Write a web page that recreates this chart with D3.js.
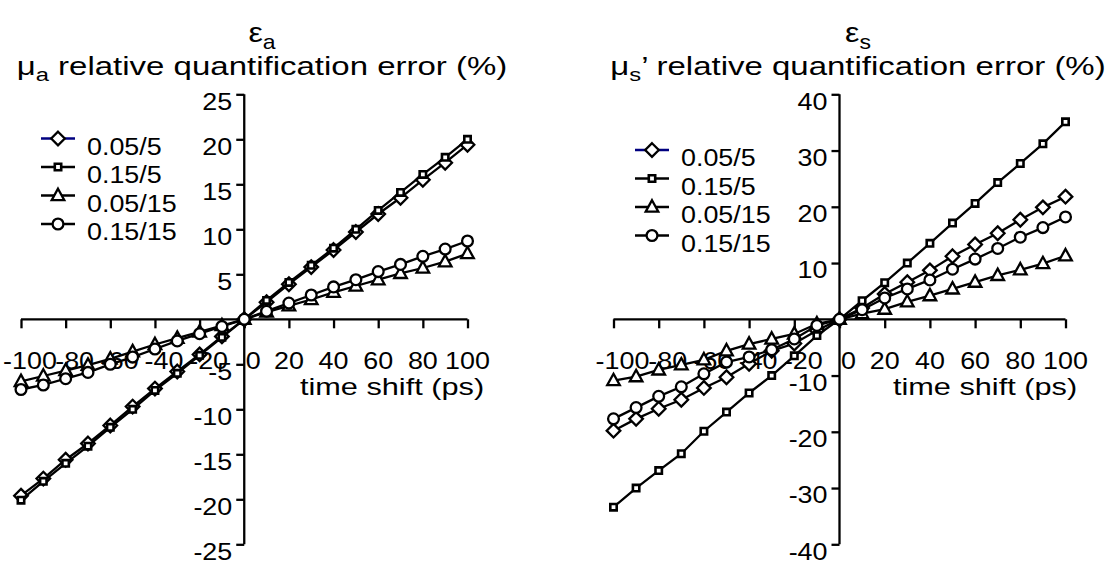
<!DOCTYPE html>
<html>
<head>
<meta charset="utf-8">
<script src="https://cdn.jsdelivr.net/npm/d3@7"></script>
<style>
  html, body { margin: 0; padding: 0; background: #fff; }
  svg { display: block; font-family: "Liberation Sans", Arial, sans-serif; }
</style>
</head>
<body>
<svg id="chart" width="1111" height="567"></svg>
<script>
// ---- data ----
const timeShift = [-100, -90, -80, -70, -60, -50, -40, -30, -20, -10, 0, 10, 20, 30, 40, 50, 60, 70, 80, 90, 100];
const seriesNames = ["0.05/5", "0.15/5", "0.05/15", "0.15/15"];
const seriesMarkers = ["diamond", "square", "triangle", "circle"];

// mu_a relative quantification error (%)
const muA_005_5  = [-19.6, -17.7, -15.6, -13.8, -11.8, -9.7, -7.7, -5.8, -3.9, -1.9, 0, 1.9, 3.9, 5.8, 7.7, 9.7, 11.7, 13.5, 15.5, 17.4, 19.4];
const muA_015_5  = [-20.1, -18.0, -16.0, -14.1, -12.0, -10.0, -7.9, -6.0, -4.0, -2.0, 0, 2.1, 4.1, 6.0, 7.9, 10.0, 12.1, 14.1, 16.1, 18.0, 20.0];
const muA_005_15 = [-6.9, -6.3, -5.7, -5.1, -4.4, -3.6, -2.8, -2.1, -1.4, -0.7, 0, 0.8, 1.5, 2.2, 3.0, 3.7, 4.4, 5.1, 5.7, 6.4, 7.3];
const muA_015_15 = [-7.8, -7.3, -6.6, -5.9, -5.0, -4.2, -3.3, -2.4, -1.6, -0.8, 0, 0.9, 1.8, 2.7, 3.6, 4.4, 5.3, 6.1, 7.0, 7.8, 8.7];

// mu_s' relative quantification error (%)
const muS_005_5  = [-19.8, -17.7, -15.9, -14.3, -12.2, -10.3, -7.9, -5.6, -4.3, -2.0, 0, 2.0, 4.5, 6.6, 8.7, 11.2, 13.3, 15.3, 17.7, 19.9, 21.8];
const muS_015_5  = [-33.4, -30.0, -26.9, -23.9, -19.9, -16.5, -13.1, -10.0, -6.5, -2.9, 0, 3.3, 6.5, 10.0, 13.5, 17.1, 20.6, 24.3, 27.7, 31.2, 35.1];
const muS_005_15 = [-10.9, -10.2, -9.0, -8.1, -7.2, -5.6, -4.4, -3.5, -2.6, -0.8, 0, 1.0, 1.8, 3.1, 4.2, 5.4, 6.6, 7.8, 8.8, 9.9, 11.3];
const muS_015_15 = [-17.7, -15.7, -13.7, -12.0, -9.7, -7.6, -6.7, -5.4, -3.5, -1.1, 0, 1.7, 3.8, 5.4, 7.0, 8.9, 10.7, 12.6, 14.6, 16.3, 18.2];

const xTicks = [-100, -80, -60, -40, -20, 0, 20, 40, 60, 80, 100];
const yTicksA = [-25, -20, -15, -10, -5, 5, 10, 15, 20, 25];
const yTicksS = [-40, -30, -20, -10, 10, 20, 30, 40];

// ---- drawing ----
const svg = d3.select("#chart");
const FS = 24;      // tick / legend font size
const SX = 1.12;    // horizontal text stretch seen in the reference
const SW = 2.3;     // line / marker stroke width

// text helper: stretched horizontally around its anchor point
function addText(parent, x, y, str, opts = {}) {
  const g = parent.append("g")
    .attr("transform", `translate(${x},${y}) scale(${opts.sx || SX},1)`);
  const t = g.append("text").attr("x", 0).attr("y", 0)
    .attr("text-anchor", opts.anchor || "start")
    .attr("font-size", opts.fs || FS).attr("fill", "#000");
  if (str !== null) t.text(str);
  return t;
}

const panels = [
  {
    sym: "ε", sub: "a", mu: "μ", rest: " relative quantification error (%)",
    series: [muA_005_5, muA_015_5, muA_005_15, muA_015_15],
    yDomain: [-25, 25], yTicks: yTicksA,
    xRange: [21, 467.5], yRange: [544.3, 94.3],
    titleX: 262, legendX: 41, legendY: 138.5, xLabelX: 392
  },
  {
    sym: "ε", sub: "s", mu: "μ", rest: "’ relative quantification error (%)",
    series: [muS_005_5, muS_015_5, muS_005_15, muS_015_15],
    yDomain: [-40, 40], yTicks: yTicksS,
    xRange: [613.5, 1065.5], yRange: [544.3, 94.3],
    titleX: 858, legendX: 635, legendY: 150, xLabelX: 985
  }
];

function markerPath(type) {
  if (type === "diamond") return "M0,-6.8L6.8,0L0,6.8L-6.8,0Z";
  if (type === "triangle") return "M0,-6.8L6.3,4.6L-6.3,4.6Z";
  if (type === "square") return "M-3.2,-3.2H3.2V3.2H-3.2Z";
  return null;
}

function drawMarker(g, type, x, y) {
  if (type === "circle") {
    g.append("circle").attr("cx", x).attr("cy", y).attr("r", 5.4)
      .attr("fill", "#fff").attr("stroke", "#000").attr("stroke-width", SW);
  } else {
    g.append("path").attr("d", markerPath(type))
      .attr("transform", `translate(${x},${y})`)
      .attr("fill", "#fff").attr("stroke", "#000")
      .attr("stroke-width", type === "square" ? 2.6 : SW);
  }
}

panels.forEach(p => {
  const x = d3.scaleLinear().domain([-100, 100]).range(p.xRange);
  const y = d3.scaleLinear().domain(p.yDomain).range(p.yRange);
  const g = svg.append("g");

  // titles
  const t1 = addText(g, p.titleX, 42, null, { anchor: "middle", fs: 28, sx: 1.15 });
  t1.append("tspan").text(p.sym);
  t1.append("tspan").attr("font-size", 20).attr("dy", 7).text(p.sub);

  const t2 = addText(g, p.titleX, 75, null, { anchor: "middle", fs: 25, sx: 1.32 });
  t2.append("tspan").text(p.mu);
  t2.append("tspan").attr("font-size", 18).attr("dy", 6).text(p.sub);
  t2.append("tspan").attr("dy", -6).text(p.rest);

  // y axis
  const yAxis = g.append("g").attr("transform", `translate(${x(0)},0)`)
    .call(d3.axisLeft(y).tickValues(p.yTicks).tickSize(8).tickSizeOuter(0)
      .tickFormat(d => String(d)));
  yAxis.select(".domain").attr("d", `M0,${y(p.yDomain[0])}V${y(p.yDomain[1])}`)
    .attr("stroke", "#000").attr("stroke-width", SW);
  yAxis.selectAll(".tick line").attr("stroke", "#000").attr("stroke-width", SW);
  yAxis.selectAll(".tick text").remove();
  p.yTicks.forEach(v => {
    addText(g, x(0) - 12, y(v) + 7, String(v), { anchor: "end" }).attr("dy", "0.35em");
  });

  // x axis
  const xAxis = g.append("g").attr("transform", `translate(0,${y(0)})`)
    .call(d3.axisBottom(x).tickValues(xTicks).tickSize(9).tickSizeOuter(0)
      .tickFormat(d => String(d)));
  xAxis.select(".domain").attr("d", `M${x(-100)},0H${x(100)}`)
    .attr("stroke", "#000").attr("stroke-width", SW);
  xAxis.selectAll(".tick line").attr("stroke", "#000").attr("stroke-width", SW);
  xAxis.selectAll(".tick text").remove();
  xTicks.forEach(v => {
    addText(g, x(v) + (v <= 0 ? 9 : 0), y(0) + 41, String(v), { anchor: "middle" })
      .attr("dy", "0.35em");
  });

  // axis label
  addText(g, p.xLabelX, y(0) + 67, "time shift (ps)", { anchor: "middle", sx: 1.28 })
    .attr("dy", "0.35em");

  // series
  const line = d3.line().x((d, i) => x(timeShift[i])).y(d => y(d));
  p.series.forEach((vals, si) => {
    const sg = g.append("g");
    sg.append("path").datum(vals).attr("d", line)
      .attr("fill", "none").attr("stroke", "#000").attr("stroke-width", SW);
    vals.forEach((v, i) => drawMarker(sg, seriesMarkers[si], x(timeShift[i]), y(v)));
  });

  // legend
  const rowH = 28.5;
  seriesNames.forEach((name, si) => {
    const ly = p.legendY + si * rowH;
    const lg = g.append("g");
    lg.append("line").attr("x1", p.legendX).attr("x2", p.legendX + 34)
      .attr("y1", ly).attr("y2", ly)
      .attr("stroke", si === 0 ? "#000080" : "#000").attr("stroke-width", SW);
    drawMarker(lg, seriesMarkers[si], p.legendX + 17, ly);
    addText(lg, p.legendX + 46, ly + 8, name).attr("dy", "0.35em");
  });
});
</script>
</body>
</html>
